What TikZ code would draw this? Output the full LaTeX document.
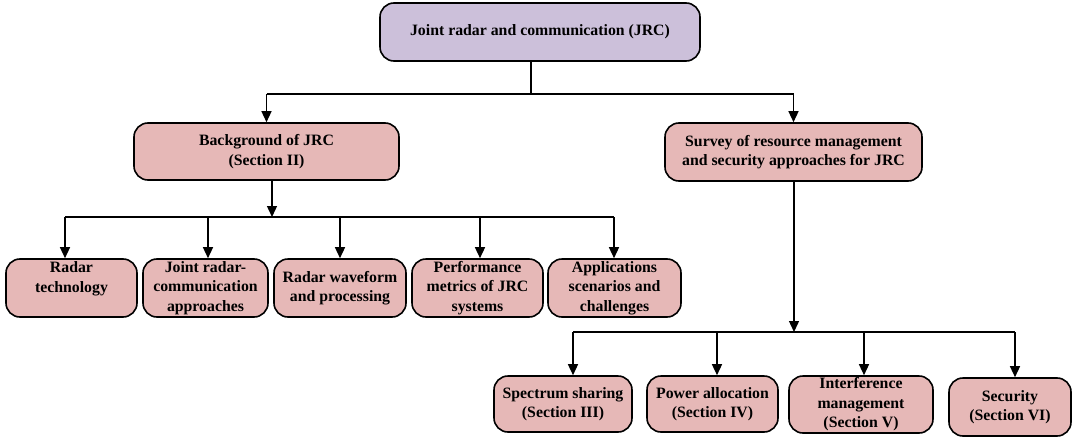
\documentclass[tikz,border=0pt]{standalone}
\usepackage{fontspec}
\setmainfont{Liberation Serif}
\usetikzlibrary{arrows.meta}
\definecolor{topfill}{HTML}{CCC0DA}
\definecolor{boxfill}{HTML}{E6B8B7}
\begin{document}
\begin{tikzpicture}[x=1pt,y=-1pt,
  box/.style={draw=black, line width=1.6pt, rounded corners=14pt, fill=boxfill,
    align=center, inner sep=0pt, font=\bfseries\fontsize{15.8}{19.6}\selectfont},
  topbox/.style={box, fill=topfill},
  conn/.style={line width=1.4pt},
  arr/.style={conn, -{Triangle[length=11pt,width=10pt]}}]
\useasboundingbox (0,0) rectangle (1076,439);
% level 0
\node[topbox, minimum width=320pt, minimum height=58pt] (top) at (540,32) {Joint radar and communication (JRC)};
% level 1
\node[box, minimum width=265pt, minimum height=57pt] (bg) at (266.5,151.5) {Background of JRC\\(Section II)};
\node[box, minimum width=257pt, minimum height=58pt] (sv) at (793.5,152) {Survey of resource management\\and security approaches for JRC};
% level 2 left
\node[box, minimum width=131pt, minimum height=58pt] (rt) at (71.5,288) {Radar\\technology\\[-4pt]\strut};
\node[box, minimum width=125pt, minimum height=58pt] (jr) at (205.5,288) {Joint radar-\\communication\\approaches};
\node[box, minimum width=132pt, minimum height=58pt] (wf) at (340,288) {Radar waveform\\and processing};
\node[box, minimum width=131pt, minimum height=58pt] (pm) at (477.5,288) {Performance\\metrics of JRC\\systems};
\node[box, minimum width=133pt, minimum height=58pt] (ap) at (614.5,288) {Applications\\scenarios and\\challenges};
% level 2 right
\node[box, minimum width=138pt, minimum height=56pt] (ss) at (563,404) {Spectrum sharing\\(Section III)};
\node[box, minimum width=131pt, minimum height=56pt] (pa) at (712.5,404) {Power allocation\\(Section IV)};
\node[box, minimum width=144pt, minimum height=57pt] (im) at (861,404.5) {Interference\\management\\(Section V)};
\node[box, minimum width=122pt, minimum height=58pt] (se) at (1010,407) {Security\\(Section VI)};
% junctions
\coordinate (j0) at (531,94);
\coordinate (j1) at (272,217);
\coordinate (j2) at (794,332);
\coordinate (l1) at (65,217);
\coordinate (l2) at (208,217);
\coordinate (l3) at (340,217);
\coordinate (l4) at (480,217);
\coordinate (l5) at (614,217);
\coordinate (r1) at (573,332);
\coordinate (r2) at (717,332);
\coordinate (r3) at (864,332);
\coordinate (r4) at (1015,332);
% top connectors
\draw[conn] (top.south -| j0) -- (j0);
\draw[conn] (bg.north |- j0) -- (sv.north |- j0);
\draw[arr] (bg.north |- j0) -- (bg.north);
\draw[arr] (sv.north |- j0) -- (sv.north);
% background connectors
\draw[arr] (bg.south -| j1) -- (j1);
\draw[conn] (l1) -- (l5);
\draw[arr] (l1) -- (l1 |- rt.north);
\draw[arr] (l2) -- (l2 |- jr.north);
\draw[arr] (l3) -- (l3 |- wf.north);
\draw[arr] (l4) -- (l4 |- pm.north);
\draw[arr] (l5) -- (l5 |- ap.north);
% survey connectors
\draw[arr] (sv.south -| j2) -- (j2);
\draw[conn] (r1) -- (r4);
\draw[arr] (r1) -- (r1 |- ss.north);
\draw[arr] (r2) -- (r2 |- pa.north);
\draw[arr] (r3) -- (r3 |- im.north);
\draw[arr] (r4) -- (r4 |- se.north);
\end{tikzpicture}
\end{document}
